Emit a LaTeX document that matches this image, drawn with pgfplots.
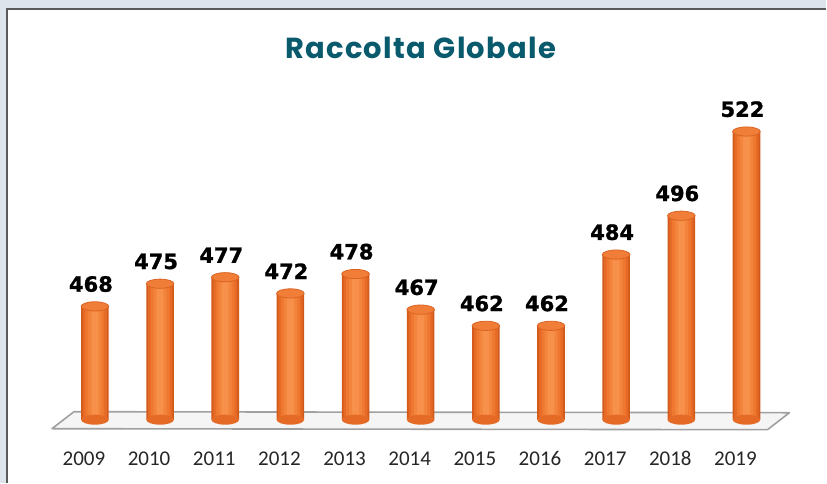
\documentclass[border=0pt]{standalone}
\usepackage{pgfplots}
\usepackage{pgfplotstable}
\pgfplotsset{compat=1.18}
\usepackage{fontspec}
\setmainfont{Carlito}
\newfontfamily\valfont{DejaVu Sans}[BoldFeatures={FakeBold=1.2}]
\newfontfamily\titlefont{Poppins}[LetterSpace=4.5]
\definecolor{outerbg}{RGB}{222,228,236}
\definecolor{framec}{RGB}{90,90,90}
\definecolor{titlec}{RGB}{10,90,110}
\definecolor{orA}{RGB}{212,90,28}
\definecolor{orB}{RGB}{228,106,38}
\definecolor{orC}{RGB}{239,120,48}
\definecolor{orD}{RGB}{243,132,60}
\definecolor{orE}{RGB}{246,144,74}
\definecolor{orTop}{RGB}{240,126,56}
\definecolor{orTopEdge}{RGB}{218,98,34}
\definecolor{floorc}{RGB}{160,160,160}
\pgfdeclareplotmark{cyltop}{%
  \pgfpathellipse{\pgfpointorigin}{\pgfqpoint{6.9pt}{0pt}}{\pgfqpoint{0pt}{2.3pt}}%
  \pgfusepathqfillstroke}
\pgfdeclareplotmark{cylbot}{%
  \pgfpathellipse{\pgfpointorigin}{\pgfqpoint{6.9pt}{0pt}}{\pgfqpoint{0pt}{2.5pt}}%
  \pgfusepathqfill}
\pgfplotstableread{
x y b
0 468 433
1 475 433
2 477 433
3 472 433
4 478 433
5 467 433
6 462 433
7 462 433
8 484 433
9 496 433
10 522 433
}\datatable
\begin{document}
\begin{tikzpicture}
% background and frame (pixel grid 827x483, 0.5pt per px, y downward)
\begin{scope}[x=0.5pt,y=-0.5pt,yshift=241.5pt]
\fill[outerbg] (0,0) rectangle (827,483);
\fill[white] (7,9) rectangle (827,483);
\draw[framec,line width=0.6pt] (7,483) -- (7,9) -- (827,9);
\fill[white!96!black,draw=floorc,line width=0.8pt,line join=round]
  (52,429) -- (768,430) -- (790,413) -- (74,412) -- cycle;
\node[font=\titlefont\bfseries\fontsize{14.5}{16}\selectfont,text=titlec] at (421,48) {Raccolta Globale};
\end{scope}
\begin{axis}[
  at={(20pt,31.5pt)}, anchor=south west,
  scale only axis, width=380pt, height=180pt,
  xmin=-0.8436, xmax=10.813,
  ymin=433, ymax=544.1,
  axis line style={draw=none},
  ytick=\empty,
  xtick=data,
  xticklabels={2009,2010,2011,2012,2013,2014,2015,2016,2017,2018,2019},
  major tick length=0pt,
  /pgf/number format/assume math mode=true,
  xticklabel style={font=\fontsize{10.5}{12}\selectfont, text=black!85, text height=7pt, text depth=0pt, yshift=-12.5pt, xshift=-5.5pt},
]
\addplot[only marks, mark=cylbot, color=orB] table[x=x, y=b] {\datatable};
\addplot[ybar, bar shift=0pt, bar width=13.8pt, draw=none, fill=orA] table[x=x,y=y] {\datatable};
\addplot[ybar, bar shift=0pt, bar width=12pt, draw=none, fill=orB] table[x=x,y=y] {\datatable};
\addplot[ybar, bar shift=0pt, bar width=9.5pt, draw=none, fill=orC] table[x=x,y=y] {\datatable};
\addplot[ybar, bar shift=0pt, bar width=6.5pt, draw=none, fill=orD] table[x=x,y=y] {\datatable};
\addplot[ybar, bar shift=0pt, bar width=3.5pt, draw=none, fill=orE] table[x=x,y=y] {\datatable};
\addplot[only marks, mark=cyltop, mark options={fill=orTop, draw=orTopEdge, line width=0.4pt},
  nodes near coords,
  every node near coord/.style={font=\valfont\bfseries\fontsize{10.5}{12}\selectfont, text=black, anchor=south, inner sep=0pt, yshift=7pt, xshift=-2pt}]
  table[x=x,y=y] {\datatable};
\end{axis}
\end{tikzpicture}
\end{document}
